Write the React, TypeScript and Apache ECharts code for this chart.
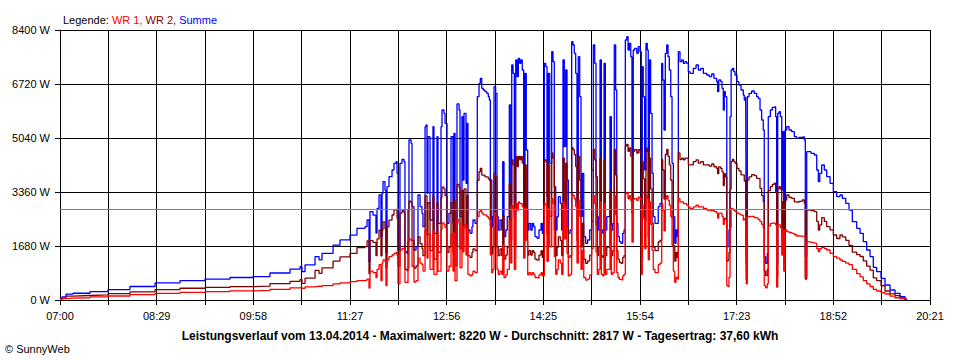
import React, { useEffect, useRef } from "react";
import * as echarts from "echarts";

// minutes after 07:00
const zeit = [
  0, 1.8, 5.5, 12.0, 27.6, 44.2, 64.4, 87.5, 110.5, 133.5, 156.5, 177.7, 193.3, 211.8, 221.0, 222.8, 225.6, 234.8, 238.5, 241.2,
  251.4, 257.8, 267.0, 273.4, 280.8, 282.7, 284.5, 285.4, 288.2, 290.9, 291.9, 293.7, 295.5, 296.5, 297.4, 299.2, 300.1, 301.1, 302.9, 305.7,
  307.5, 309.4, 310.3, 311.2, 313.0, 314.9, 316.7, 317.6, 319.5, 320.4, 321.3, 323.2, 324.1, 325.9, 327.8, 329.6, 331.5, 333.3, 334.2, 336.1,
  337.0, 337.9, 338.8, 340.7, 343.4, 344.3, 347.1, 348.0, 350.8, 351.7, 353.5, 354.5, 356.3, 358.1, 360.0, 361.8, 362.7, 363.7, 365.5, 367.4,
  368.3, 370.1, 371.0, 372.0, 373.8, 374.7, 375.6, 377.5, 379.3, 380.2, 382.1, 384.2, 385.8, 387.0, 388.3, 389.7, 391.3, 392.9, 394.3, 395.3,
  396.2, 397.5, 398.4, 399.6, 401.1, 402.3, 403.5, 405.1, 406.7, 407.6, 408.8, 410.4, 411.8, 413.7, 415.0, 415.9, 417.1, 418.3, 419.6, 420.8,
  422.0, 423.2, 424.4, 425.6, 426.9, 428.1, 429.3, 430.6, 431.8, 433.4, 434.8, 436.1, 437.3, 439.2, 441.0, 442.9, 444.1, 445.9, 447.2, 448.4,
  449.6, 450.9, 452.7, 453.9, 455.1, 456.4, 457.6, 458.8, 460.6, 461.9, 463.1, 464.3, 465.6, 466.8, 468.0, 469.6, 471.1, 472.3, 473.5, 474.8,
  476.0, 477.2, 478.5, 479.7, 480.9, 482.2, 484.0, 485.8, 487.7, 489.5, 491.0, 492.3, 493.5, 494.7, 496.0, 497.2, 498.4, 499.7, 500.9, 502.1,
  503.4, 504.8, 506.4, 507.6, 508.9, 510.3, 511.6, 512.6, 513.7, 515.0, 516.5, 518.1, 519.3, 520.5, 521.8, 523.0, 524.2, 525.5, 526.6, 527.8,
  529.1, 531.0, 532.4, 534.0, 535.2, 536.1, 537.0, 538.3, 539.5, 540.7, 541.6, 542.6, 543.8, 545.1, 546.2, 547.8, 549.4, 550.8, 552.4, 554.0,
  554.9, 556.1, 557.3, 558.6, 559.8, 561.0, 562.3, 563.5, 564.7, 566.0, 567.1, 568.3, 569.3, 570.8, 572.4, 573.9, 575.4, 577.0, 578.5, 580.0,
  583.1, 585.6, 587.7, 589.9, 592.3, 595.4, 597.8, 600.0, 602.1, 604.6, 605.5, 606.5, 608.3, 609.5, 610.7, 611.6, 612.6, 613.9, 615.0, 615.9,
  616.9, 617.9, 619.1, 620.3, 621.5, 623.3, 625.1, 627.0, 629.1, 630.0, 631.3, 631.9, 632.8, 634.4, 636.8, 639.2, 641.4, 642.9, 644.5, 646.0,
  647.5, 648.4, 649.7, 651.2, 652.1, 654.0, 655.8, 657.6, 658.9, 659.8, 660.8, 662.0, 663.2, 664.5, 665.4, 666.3, 667.5, 669.1, 671.2, 673.7,
  676.1, 678.3, 680.4, 683.4, 685.3, 686.2, 687.5, 689.0, 691.4, 694.5, 696.7, 698.2, 699.5, 701.3, 703.7, 705.9, 709.0, 712.0, 715.1, 718.1,
  720.3, 723.4, 726.4, 729.5, 733.5, 736.6, 739.6, 742.7, 745.8, 748.8, 751.9, 755.9, 759.6, 764.2, 768.8, 773.4, 778.0, 779.5,
];

const summe = [
  40, 100, 180, 210, 260, 320, 420, 530, 600, 650, 700, 730, 840, 960, 1036, 880, 1090, 1350, 1250, 1450,
  1710, 1870, 2020, 2230, 2280, 2490, 1190, 2750, 2640, 2080, 2850, 3270, 1970, 3320, 3680, 3420, 1460, 3525, 3836, 4044,
  4252, 4303, 3940, 1556, 4252, 4376, 4303, 1503, 1452, 2800, 4978, 4874, 2904, 1556, 1659, 3267, 2904, 2696, 2281, 5392,
  5444, 3318, 5081, 2489, 5392, 2074, 5081, 2385, 5392, 5911, 5807, 5496, 2385, 2696, 5081, 2385, 5185, 1659, 6100, 5911,
  2593, 5703, 3733, 5807, 3629, 5496, 2178, 2074, 2281, 2489, 2385, 6325, 6740, 6896, 6585, 6533, 6481, 6429, 6325, 6222,
  3733, 2281, 2593, 6637, 6429, 2593, 2178, 2489, 2178, 4303, 1970, 2178, 2593, 6066, 3007, 7311, 7052, 2593, 7467, 6948,
  7519, 7363, 7467, 7156, 3422, 7052, 4667, 2178, 2385, 2178, 2385, 2281, 1970, 1919, 2178, 2385, 2074, 7363, 7259, 3214,
  7052, 4252, 7726, 7415, 3525, 2178, 2593, 3214, 3007, 2178, 7467, 4770, 7156, 3733, 2074, 2178, 8036, 7933, 7674, 7052,
  3007, 7570, 6325, 2593, 3940, 1970, 1763, 1867, 2178, 4044, 7933, 7363, 3836, 2178, 2593, 7467, 2178, 2074, 7363, 2178,
  2593, 2593, 5703, 2178, 2385, 7933, 6533, 2385, 1970, 1815, 1763, 2074, 2178, 8089, 8193, 7778, 7985, 7570, 4500, 7778,
  7830, 7674, 7881, 7726, 2178, 7259, 6325, 4044, 7985, 7778, 3214, 7467, 5807, 3940, 2593, 2385, 2385, 2904, 3007, 7363,
  6844, 5289, 7674, 7933, 7570, 7156, 6325, 4252, 2593, 1763, 2178, 1970, 7726, 7415, 7467, 7363, 7415, 7363, 7104, 7052,
  7208, 7311, 7156, 7208, 7052, 7000, 6948, 7031, 6896, 6792, 6481, 6844, 6792, 6585, 5911, 6481, 6325, 1659, 1659, 2178,
  5703, 7156, 7208, 7104, 7000, 6792, 6689, 6533, 6378, 6222, 6325, 1141, 6325, 6429, 6502, 6429, 6325, 6274, 5911, 5600,
  5289, 1348, 1141, 1452, 5703, 5911, 5994, 6014, 5703, 1141, 5807, 5859, 5703, 3422, 5237, 2593, 5289, 5392, 5289, 5237,
  5081, 5030, 5061, 5081, 4978, 1350, 4614, 4614, 4563, 4511, 4044, 3680, 3940, 4200, 4044, 3836, 3629, 3370, 3214, 3267,
  3163, 3007, 2800, 2437, 2230, 2074, 1815, 1556, 1348, 1016, 881, 674, 467, 311, 207, 104, 31, 0,
];

const wr1 = [
  10, 40, 60, 70, 100, 124, 165, 207, 235, 259, 285, 300, 330, 380, 400, 360, 410, 430, 420, 450,
  500, 530, 570, 600, 620, 650, 370, 900, 850, 700, 950, 1100, 600, 1150, 1250, 1200, 450, 1250, 1350, 1400,
  1450, 1480, 1400, 500, 1550, 1600, 1580, 550, 540, 1000, 1900, 1850, 1050, 560, 600, 1300, 1150, 1100, 900, 2150,
  2200, 1300, 2050, 950, 2150, 800, 2050, 900, 2200, 2400, 2350, 2250, 900, 1050, 2050, 900, 2100, 600, 2500, 2400,
  1000, 2300, 1500, 2350, 1400, 2250, 800, 750, 800, 900, 850, 2600, 2750, 2800, 2700, 2650, 2650, 2600, 2550, 2500,
  1400, 850, 950, 2700, 2600, 950, 800, 900, 800, 1700, 700, 780, 950, 2450, 1150, 2950, 2850, 950, 3000, 2800,
  3050, 3000, 3000, 2900, 1300, 2850, 1850, 780, 850, 780, 850, 800, 700, 680, 780, 850, 750, 3000, 2950, 1200,
  2850, 1650, 3150, 3000, 1350, 800, 950, 1250, 1150, 800, 3050, 1900, 2900, 1450, 750, 800, 3300, 3250, 3150, 2900,
  1150, 3100, 2600, 950, 1550, 700, 620, 650, 780, 1600, 3250, 3000, 1500, 800, 950, 3050, 800, 750, 3000, 800,
  950, 950, 2300, 800, 850, 3250, 2650, 850, 700, 640, 620, 750, 800, 3300, 3350, 3150, 3250, 3100, 1800, 3150,
  3150, 3100, 3200, 3150, 800, 2950, 2550, 1600, 3250, 3150, 1250, 3050, 2350, 1550, 950, 850, 850, 1100, 1150, 3000,
  2800, 2150, 3150, 3250, 3100, 2950, 2600, 1700, 900, 550, 700, 650, 3150, 3050, 3050, 3000, 3000, 2950, 2900, 2850,
  2900, 2950, 2900, 2900, 2850, 2800, 2780, 2800, 2750, 2700, 2550, 2700, 2700, 2600, 2350, 2550, 2500, 450, 420, 700,
  2250, 2852, 2830, 2790, 2748, 2700, 2670, 2640, 2489, 2520, 2593, 500, 2593, 2600, 2600, 2560, 2541, 2500, 2437, 2350,
  2230, 450, 380, 500, 2300, 2385, 2400, 2380, 2333, 400, 2350, 2330, 2250, 1400, 2178, 900, 2180, 2126, 2100, 2074,
  2030, 1991, 1990, 1970, 1970, 700, 1815, 1800, 1780, 1763, 1600, 1503, 1600, 1639, 1600, 1556, 1450, 1348, 1300, 1244,
  1200, 1150, 1100, 950, 820, 720, 600, 500, 420, 330, 280, 230, 187, 120, 70, 40, 10, 0,
];

const wr2 = [
  30, 60, 120, 140, 160, 196, 255, 323, 365, 391, 415, 430, 510, 580, 636, 520, 680, 920, 830, 1000,
  1210, 1340, 1450, 1630, 1660, 1840, 820, 1850, 1790, 1380, 1900, 2170, 1370, 2170, 2430, 2220, 1010, 2275, 2486, 2644,
  2802, 2823, 2540, 1056, 2702, 2776, 2723, 953, 912, 1800, 3078, 3024, 1854, 996, 1059, 1967, 1754, 1596, 1381, 3242,
  3244, 2018, 3031, 1539, 3242, 1274, 3031, 1485, 3192, 3511, 3457, 3246, 1485, 1646, 3031, 1485, 3085, 1059, 3600, 3511,
  1593, 3403, 2233, 3457, 2229, 3246, 1378, 1324, 1481, 1589, 1535, 3725, 3990, 4096, 3885, 3883, 3831, 3829, 3775, 3722,
  2333, 1431, 1643, 3937, 3829, 1643, 1378, 1589, 1378, 2603, 1270, 1398, 1643, 3616, 1857, 4361, 4202, 1643, 4467, 4148,
  4469, 4363, 4467, 4256, 2122, 4202, 2817, 1398, 1535, 1398, 1535, 1481, 1270, 1239, 1398, 1535, 1324, 4363, 4309, 2014,
  4202, 2602, 4576, 4415, 2175, 1378, 1643, 1964, 1857, 1378, 4417, 2870, 4256, 2283, 1324, 1378, 4736, 4683, 4524, 4152,
  1857, 4470, 3725, 1643, 2390, 1270, 1143, 1217, 1398, 2444, 4683, 4363, 2336, 1378, 1643, 4417, 1378, 1324, 4363, 1378,
  1643, 1643, 3403, 1378, 1535, 4683, 3883, 1535, 1270, 1175, 1143, 1324, 1378, 4789, 4843, 4628, 4735, 4470, 2700, 4628,
  4680, 4574, 4681, 4576, 1378, 4309, 3775, 2444, 4735, 4628, 1964, 4417, 3457, 2390, 1643, 1535, 1535, 1804, 1857, 4363,
  4044, 3139, 4524, 4683, 4470, 4206, 3725, 2552, 1693, 1213, 1478, 1320, 4576, 4365, 4417, 4363, 4415, 4413, 4204, 4202,
  4308, 4361, 4256, 4308, 4202, 4200, 4168, 4231, 4146, 4092, 3931, 4144, 4092, 3985, 3561, 3931, 3825, 1209, 1239, 1478,
  3453, 4304, 4378, 4314, 4252, 4092, 4019, 3893, 3889, 3702, 3732, 641, 3732, 3829, 3902, 3869, 3784, 3774, 3474, 3250,
  3059, 898, 761, 952, 3403, 3526, 3594, 3634, 3370, 741, 3457, 3529, 3453, 2022, 3059, 1693, 3109, 3266, 3189, 3163,
  3051, 3039, 3071, 3111, 3008, 650, 2799, 2814, 2783, 2748, 2444, 2177, 2340, 2561, 2444, 2280, 2179, 2022, 1914, 2023,
  1963, 1857, 1700, 1487, 1410, 1354, 1215, 1056, 928, 686, 601, 444, 280, 191, 137, 64, 21, 0,
];

const durchschnitt = 2817;
const yTicks = [0, 1680, 3360, 5040, 6720, 8400];
const startMinute = 7 * 60;
const spanMinutes = 801;
const tickStep = 44.5;

const FONT = "'Liberation Sans', Arial, sans-serif";

function fmtTime(v: number) {
  const m = Math.round(startMinute + v);
  const h = Math.floor(m / 60);
  const mm = m % 60;
  return (h < 10 ? "0" : "") + h + ":" + (mm < 10 ? "0" : "") + mm;
}

export default function App() {
  const ref = useRef<HTMLDivElement>(null);
  useEffect(() => {
    if (!ref.current) return;
    const chart = echarts.init(ref.current, null, { renderer: "svg" });
    const mk = (arr: number[]) => zeit.map((t, i) => [t, arr[i]]);
    const rs = (color: string) => ({ color, fontSize: 11, fontWeight: "normal", fontFamily: FONT });
    chart.setOption({
      animation: false,
      backgroundColor: "#ffffff",
      textStyle: { fontFamily: FONT },
      title: {
        left: 58,
        top: 9,
        text: "{a|Legende: }{b|WR 1, }{c|WR 2, }{d|Summe}",
        textStyle: {
          fontWeight: "normal",
          fontSize: 11,
          rich: {
            a: rs("#000000"),
            b: rs("#ff0000"),
            c: rs("#800000"),
            d: rs("#0000ff"),
          },
        },
      },
      grid: { left: 60, right: 30, top: 30, bottom: 60, containLabel: false },
      xAxis: {
        type: "value",
        min: 0,
        max: spanMinutes,
        interval: tickStep,
        axisLine: { show: true, lineStyle: { color: "#000000", width: 1 } },
        axisTick: { show: true, length: 5, inside: false, lineStyle: { color: "#000000" } },
        splitLine: { show: true, lineStyle: { color: "#000000", width: 1 } },
        axisLabel: {
          color: "#000000",
          fontSize: 11,
          fontFamily: FONT,
          margin: 10,
          showMinLabel: true,
          showMaxLabel: true,
          formatter: (v: number) => (Math.round(v / tickStep) % 2 === 0 ? fmtTime(v) : ""),
        },
      },
      yAxis: {
        type: "value",
        min: yTicks[0],
        max: yTicks[yTicks.length - 1],
        interval: yTicks[1] - yTicks[0],
        axisLine: { show: true, lineStyle: { color: "#000000", width: 1 } },
        axisTick: { show: true, length: 5, lineStyle: { color: "#000000" } },
        splitLine: { show: true, lineStyle: { color: "#000000", width: 1 } },
        axisLabel: {
          color: "#000000",
          fontSize: 11,
          fontFamily: FONT,
          margin: 10,
          formatter: (v: number) => v + " W",
        },
      },
      series: [
        {
          name: "Summe",
          type: "line",
          step: "end",
          data: mk(summe),
          showSymbol: false,
          symbol: "none",
          lineStyle: { color: "#0000ff", width: 1.3 },
          itemStyle: { color: "#0000ff" },
        },
        {
          name: "WR 2",
          type: "line",
          step: "end",
          data: mk(wr2),
          showSymbol: false,
          symbol: "none",
          lineStyle: { color: "#800000", width: 1.3 },
          itemStyle: { color: "#800000" },
        },
        {
          name: "WR 1",
          type: "line",
          step: "end",
          data: mk(wr1),
          showSymbol: false,
          symbol: "none",
          lineStyle: { color: "#ff0000", width: 1.3 },
          itemStyle: { color: "#ff0000" },
          markLine: {
            silent: true,
            symbol: "none",
            label: { show: false },
            lineStyle: { color: "#808080", type: "solid", width: 1 },
            data: [{ yAxis: durchschnitt }],
            z: 10,
          },
        },
      ],
      graphic: [
        {
          type: "text",
          left: "center",
          top: 330,
          style: {
            text:
              "Leistungsverlauf vom 13.04.2014 - Maximalwert: 8220 W - Durchschnitt: " +
              durchschnitt +
              " W - Tagesertrag: 37,60 kWh",
            font: "bold 12px " + FONT,
            fill: "#000000",
          },
        },
        {
          type: "text",
          left: 5,
          top: 343,
          style: { text: "© SunnyWeb", font: "11px " + FONT, fill: "#000000" },
        },
      ],
    });
    return () => chart.dispose();
  }, []);
  return (
    <div
      ref={ref}
      style={{ position: "absolute", left: 0, top: 0, width: 960, height: 360, background: "#fff" }}
    />
  );
}
